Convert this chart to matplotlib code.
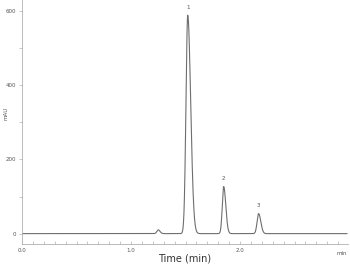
import numpy as np
import matplotlib
matplotlib.use("Agg")
import matplotlib.pyplot as plt
from matplotlib.ticker import MultipleLocator, FixedLocator

# Peak table
peak_labels = ["", "1", "2", "3"]
peak_times = [1.25, 1.52, 1.85, 2.17]        # min
peak_heights = [10, 589, 127, 54]            # mAU
peak_sigma_front = [0.013, 0.016, 0.013, 0.014]
peak_sigma_tail = [0.016, 0.027, 0.019, 0.020]

x_ticks = [0.0, 1.0, 2.0]
x_tick_labels = ["0.0", "1.0", "2.0"]
y_ticks = [0, 200, 400, 600]

t = np.linspace(0, 2.98, 3000)
signal = np.zeros_like(t)
for rt, h, sf, st in zip(peak_times, peak_heights, peak_sigma_front, peak_sigma_tail):
    s = np.where(t < rt, sf, st)
    signal += h * np.exp(-0.5 * ((t - rt) / s) ** 2)

fig = plt.figure(figsize=(3.5, 2.67), dpi=100)
ax = fig.add_axes([22/350, 1 - 244/267, 326/350, 244/267])
ax.plot(t, signal, color="#6e6e6e", lw=0.8)

ax.set_xlim(0, 2.99)
ax.set_ylim(-28, 630)

for sp in ["top", "right"]:
    ax.spines[sp].set_visible(False)
for sp in ["left", "bottom"]:
    ax.spines[sp].set_color("#b0b0b0")
    ax.spines[sp].set_linewidth(0.6)

ax.yaxis.set_major_locator(FixedLocator(y_ticks))
ax.yaxis.set_minor_locator(MultipleLocator(100))
ax.xaxis.set_major_locator(FixedLocator(x_ticks))
ax.xaxis.set_minor_locator(MultipleLocator(0.1))
ax.set_xticklabels(x_tick_labels)
ax.tick_params(axis="y", which="both", direction="out", length=2.5, width=0.5,
               colors="#b0b0b0", labelcolor="#555555", labelsize=4, pad=2)
ax.tick_params(axis="x", which="both", direction="in", length=2.5, width=0.5,
               colors="#b0b0b0", labelcolor="#555555", labelsize=4, pad=3)

ax.text(2.93, -48, "min", fontsize=4, color="#555555", ha="center", va="top")
ax.set_xlabel("Time (min)", fontsize=7, color="#333333", labelpad=0)
ax.set_ylabel("mAU", fontsize=4, color="#555555")
ax.yaxis.set_label_coords(-14/326, (244 - 113) / 244)

for lab, rt, h in zip(peak_labels, peak_times, peak_heights):
    if lab:
        ax.annotate(lab, (rt, h), xytext=(0, 4), textcoords="offset points",
                    fontsize=4, color="#555555", ha="center", va="bottom")

fig.savefig("out.png", dpi=100)
